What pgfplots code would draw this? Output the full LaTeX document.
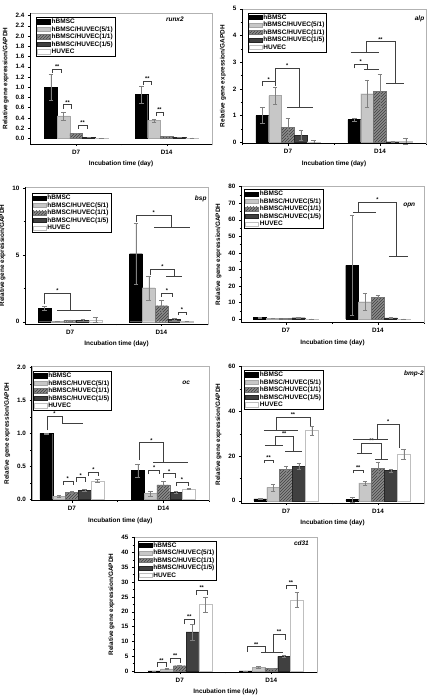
\documentclass[border=0pt]{standalone}
\usepackage{pgfplots}
\pgfplotsset{compat=1.18}
\usepackage{fontspec}
\setmainfont{Liberation Sans}
\usetikzlibrary{patterns}
\tikzset{
 sig/.style={black!75, line width=0.4pt},
 sigl/.style={above, inner sep=0.3pt, font=\fontsize{5.5}{5.5}\selectfont\bfseries, black},
 plab/.style={font=\fontsize{6.5}{7}\selectfont\bfseries\itshape},
}
\pgfplotsset{
 panel/.style={
  scale only axis, ybar, bar width=0.14, clip=false,
  xtick={1,2}, xticklabels={D7,D14}, minor xtick={0.5,1.5,2.5},
  tick align=outside, xtick pos=bottom, ytick pos=left,
  major tick length=2.2pt, minor tick length=1.3pt,
  every tick/.style={black,line width=0.4pt},
  minor y tick num=1,
  axis line style={black!30, line width=0.4pt},
  tick label style={font=\fontsize{6.3}{7}\selectfont\bfseries},
  /pgf/number format/assume math mode=true,
  xlabel={Incubation time (day)}, ylabel={Relative gene expression/GAPDH},
  label style={font=\fontsize{6.4}{7}\selectfont\bfseries},
  legend cell align=left,
  legend image code/.code={\draw[##1] (0pt,-2.1pt) rectangle (13pt,2.1pt);},
  legend style={anchor=north west, draw=black, line width=0.4pt, font=\fontsize{6.5}{7}\selectfont\bfseries, inner xsep=1pt, inner ysep=0.8pt, row sep=0pt,
    nodes={inner xsep=1.2pt, inner ysep=0.5pt, text height=5.1pt, text depth=1.4pt}},
  after end axis/.code={\draw[black,line width=0.5pt] (rel axis cs:0,1)--(rel axis cs:0,0)--(rel axis cs:1,0);},
 },
 s1/.style={fill=black, draw=black, line width=0.3pt},
 s2/.style={fill=black!22, draw=black!35, line width=0.3pt},
 s3/.style={fill=black!45, draw=black!55, line width=0.3pt, postaction={pattern=north east lines, pattern color=black!75}},
 s4/.style={fill=black!75, draw=black!85, line width=0.3pt},
 s5/.style={fill=white, draw=black!25, line width=0.3pt},
 eb/.style={error bars/y dir=both, error bars/y explicit, error bars/error bar style={black!50,line width=0.3pt}, error bars/error mark options={rotate=90,black!50,mark size=2.3pt,line width=0.3pt}},
}
\newcommand{\br}[5]{\draw[sig] (axis cs:#1,#4) -- (axis cs:#1,#3) -- node[sigl]{#5} (axis cs:#2,#3) -- (axis cs:#2,#4);}
\newcommand{\gbr}[6]{\draw[sig] (axis cs:#1,#2) -- (axis cs:#1,#5) -- node[sigl]{#6} (axis cs:#3,#5) -- (axis cs:#3,#4);}
\newcommand{\hl}[3]{\draw[sig] (axis cs:#1,#3) -- (axis cs:#2,#3);}
\newcommand{\legs}{\legend{hBMSC,hBMSC/HUVEC(5/1),hBMSC/HUVEC(1/1),hBMSC/HUVEC(1/5),HUVEC}}
\begin{document}
\begin{tikzpicture}
\useasboundingbox (0pt,0pt) rectangle (432pt,697pt);
% ---------------- runx2
\begin{axis}[panel, at={(30pt,553pt)}, anchor=south west, width=182pt, height=131pt,
 xmin=0.49, xmax=2.5, ymin=-0.11, ymax=2.45,
 ytick={0,0.2,0.4,0.6,0.8,1.0,1.2,1.4,1.6,1.8,2.0,2.2,2.4}, minor y tick num=0,
 yticklabel style={/pgf/number format/fixed,/pgf/number format/fixed zerofill,/pgf/number format/precision=1},
 legend style={at={(0.033,0.97)}}]
\addplot[s1,bar shift=-0.28,eb] table[row sep=\\,y error=e]{x y e\\1 1.00 0.25\\2 0.86 0.17\\};
\addplot[s2,bar shift=-0.14,eb] table[row sep=\\,y error=e]{x y e\\1 0.44 0.08\\2 0.35 0.03\\};
\addplot[s3,bar shift=0,eb] table[row sep=\\,y error=e]{x y e\\1 0.10 0.005\\2 0.04 0.005\\};
\addplot[s4,bar shift=0.14,eb] table[row sep=\\,y error=e]{x y e\\1 0.02 0.005\\2 0.02 0.005\\};
\addplot[s5,bar shift=0.28,eb] table[row sep=\\,y error=e]{x y e\\1 0.005 0.003\\2 0.008 0.003\\};
\legs
\br{0.74}{0.84}{1.36}{1.28}{**}
\br{0.86}{0.95}{0.66}{0.58}{**}
\br{1.02}{1.12}{0.26}{0.18}{**}
\br{1.74}{1.83}{1.12}{1.04}{**}
\br{1.88}{1.96}{0.52}{0.44}{**}
\node[plab] at (axis cs:2.09,2.33) {runx2};
\end{axis}
% ---------------- alp
\begin{axis}[panel, at={(242pt,553.4pt)}, anchor=south west, width=184pt, height=134.8pt,
 xmin=0.5, xmax=2.5, ymin=-0.05, ymax=5, ytick={0,1,2,3,4,5},
 legend style={at={(0.031,0.971)}}]
\addplot[s1,bar shift=-0.28,eb] table[row sep=\\,y error=e]{x y e\\1 1.00 0.30\\2 0.85 0.06\\};
\addplot[s2,bar shift=-0.14,eb] table[row sep=\\,y error=e]{x y e\\1 1.75 0.33\\2 1.82 0.52\\};
\addplot[s3,bar shift=0,eb] table[row sep=\\,y error=e]{x y e\\1 0.55 0.35\\2 1.92 0.63\\};
\addplot[s4,bar shift=0.14,eb] table[row sep=\\,y error=e]{x y e\\1 0.27 0.20\\2 0.02 0.01\\};
\addplot[s5,bar shift=0.28,eb] table[row sep=\\,y error=e]{x y e\\1 0.02 0.06\\2 0.05 0.12\\};
\legs
\br{0.72}{0.86}{2.27}{2.1}{*}
\gbr{0.86}{2.3}{1.12}{1.31}{2.79}{*}
\hl{0.99}{1.27}{1.31}
\gbr{1.72}{2.77}{1.86}{2.73}{2.93}{*}
\hl{1.83}{1.99}{2.73}
\hl{1.68}{1.99}{3.39}
\gbr{1.85}{3.39}{2.16}{2.2}{3.77}{**}
\hl{2.07}{2.26}{2.2}
\node[plab] at (axis cs:2.43,4.64) {alp};
\end{axis}
% ---------------- bsp
\begin{axis}[panel, at={(25pt,373pt)}, anchor=south west, width=183pt, height=137pt,
 xmin=0.505, xmax=2.51, ymin=-0.17, ymax=10.1, ytick={0,5,10},
 legend style={at={(0.037,0.954)}}]
\addplot[s1,bar shift=-0.28,eb] table[row sep=\\,y error=e]{x y e\\1 1.00 0.15\\2 5.1 2.3\\};
\addplot[s2,bar shift=-0.14,eb] table[row sep=\\,y error=e]{x y e\\1 0.05 0.02\\2 2.55 0.9\\};
\addplot[s3,bar shift=0,eb] table[row sep=\\,y error=e]{x y e\\1 0.10 0.05\\2 1.2 0.45\\};
\addplot[s4,bar shift=0.14,eb] table[row sep=\\,y error=e]{x y e\\1 0.12 0.05\\2 0.2 0.05\\};
\addplot[s5,bar shift=0.28,eb] table[row sep=\\,y error=e]{x y e\\1 0.15 0.18\\2 0.03 0.02\\};
\legs
\gbr{0.72}{1.3}{1.0}{0.87}{2.13}{*}
\hl{0.86}{1.23}{0.87}
\gbr{1.72}{7.5}{2.11}{7.05}{8.0}{*}
\hl{1.92}{2.31}{7.05}
\gbr{1.88}{3.5}{2.14}{3.45}{3.95}{*}
\hl{2.05}{2.22}{3.45}
\br{2.0}{2.12}{2.13}{1.85}{*}
\br{2.18}{2.27}{0.75}{0.5}{*}
\node[plab] at (axis cs:2.43,9.18) {bsp};
\end{axis}
% ---------------- opn
\begin{axis}[panel, at={(241pt,374.3pt)}, anchor=south west, width=183pt, height=136.7pt,
 xmin=0.514, xmax=2.5, ymin=-2.2, ymax=80.4, ytick={0,10,...,80},
 legend style={at={(0.018,0.978)}}]
\addplot[s1,bar shift=-0.28,eb] table[row sep=\\,y error=e]{x y e\\1 1.0 0.3\\2 32.5 30\\};
\addplot[s2,bar shift=-0.14,eb] table[row sep=\\,y error=e]{x y e\\1 0.5 0.2\\2 10.5 5\\};
\addplot[s3,bar shift=0,eb] table[row sep=\\,y error=e]{x y e\\1 0.3 0.2\\2 13 1.3\\};
\addplot[s4,bar shift=0.14,eb] table[row sep=\\,y error=e]{x y e\\1 0.8 0.2\\2 0.7 0.2\\};
\addplot[s5,bar shift=0.28,eb] table[row sep=\\,y error=e]{x y e\\1 0.1 0.1\\2 0.1 0.1\\};
\legs
\hl{1.73}{1.98}{64.5}
\gbr{1.79}{64.5}{2.2}{38}{70.5}{*}
\hl{2.12}{2.33}{38}
\node[plab] at (axis cs:2.34,68.9) {opn};
\end{axis}
% ---------------- oc
\begin{axis}[panel, at={(31.7pt,196.3pt)}, anchor=south west, width=177.3pt, height=134.7pt,
 xmin=0.56, xmax=2.5, ymin=-0.02, ymax=2.02, ytick={0,0.5,1.0,1.5,2.0},
 yticklabel style={/pgf/number format/fixed,/pgf/number format/fixed zerofill,/pgf/number format/precision=1},
 legend style={at={(0.005,0.963)}}]
\addplot[s1,bar shift=-0.28,eb] table[row sep=\\,y error=e]{x y e\\1 1.00 0.005\\2 0.44 0.1\\};
\addplot[s2,bar shift=-0.14,eb] table[row sep=\\,y error=e]{x y e\\1 0.05 0.01\\2 0.09 0.04\\};
\addplot[s3,bar shift=0,eb] table[row sep=\\,y error=e]{x y e\\1 0.11 0.02\\2 0.22 0.05\\};
\addplot[s4,bar shift=0.14,eb] table[row sep=\\,y error=e]{x y e\\1 0.14 0.01\\2 0.11 0.02\\};
\addplot[s5,bar shift=0.28,eb] table[row sep=\\,y error=e]{x y e\\1 0.28 0.02\\2 0.16 0.01\\};
\legs
\gbr{0.73}{1.05}{0.89}{1.15}{1.26}{*}
\hl{0.89}{1.12}{1.15}
\br{0.90}{1.01}{0.28}{0.22}{*}
\br{1.05}{1.14}{0.33}{0.27}{*}
\br{1.18}{1.29}{0.41}{0.35}{*}
\gbr{1.74}{0.6}{2.0}{0.56}{0.86}{*}
\hl{1.89}{2.27}{0.56}
\br{1.84}{1.96}{0.44}{0.38}{*}
\br{2.0}{2.13}{0.39}{0.33}{*}
\br{2.14}{2.27}{0.26}{0.2}{*}
\node[plab] at (axis cs:2.25,1.77) {oc};
\end{axis}
% ---------------- bmp-2
\begin{axis}[panel, at={(241pt,194pt)}, anchor=south west, width=183pt, height=137pt,
 xmin=0.51, xmax=2.5, ymin=-1, ymax=60.3, ytick={0,20,40,60},
 legend style={at={(0.018,0.971)}}]
\addplot[s1,bar shift=-0.28,eb] table[row sep=\\,y error=e]{x y e\\1 0.9 0.3\\2 0.5 1.2\\};
\addplot[s2,bar shift=-0.14,eb] table[row sep=\\,y error=e]{x y e\\1 6.0 1.5\\2 8.0 0.8\\};
\addplot[s3,bar shift=0,eb] table[row sep=\\,y error=e]{x y e\\1 14.0 1.5\\2 14.5 3.0\\};
\addplot[s4,bar shift=0.14,eb] table[row sep=\\,y error=e]{x y e\\1 15.5 1.2\\2 13.5 0.8\\};
\addplot[s5,bar shift=0.28,eb] table[row sep=\\,y error=e]{x y e\\1 31.5 2.0\\2 20.8 2.2\\};
\legs
\br{0.76}{0.86}{18.2}{16.8}{**}
\hl{0.77}{0.97}{24.9}
\gbr{0.88}{24.9}{1.08}{22.4}{29}{**}
\hl{0.99}{1.17}{22.4}
\hl{0.76}{1.13}{31.4}
\gbr{0.89}{31.4}{1.26}{33.6}{37.3}{**}
\br{1.73}{1.84}{13.7}{12.3}{**}
\hl{1.77}{1.93}{21.2}
\gbr{1.82}{21.2}{2.04}{18.5}{25.7}{**}
\hl{1.97}{2.11}{18.5}
\hl{1.73}{2.11}{27.5}
\gbr{1.99}{27.5}{2.23}{23.5}{34.2}{*}
\node[plab] at (axis cs:2.39,57) {bmp-2};
\end{axis}
% ---------------- cd31
\begin{axis}[panel, at={(134pt,25pt)}, anchor=south west, width=183pt, height=135pt,
 xmin=0.5, xmax=2.5, ymin=-0.34, ymax=45.2, ytick={0,5,...,45},
 legend style={at={(0.02,0.973)}}]
\addplot[s1,bar shift=-0.28,eb] table[row sep=\\,y error=e]{x y e\\1 0.05 0.05\\2 0.05 0.05\\};
\addplot[s2,bar shift=-0.14,eb] table[row sep=\\,y error=e]{x y e\\1 0.7 0.2\\2 1.3 0.2\\};
\addplot[s3,bar shift=0,eb] table[row sep=\\,y error=e]{x y e\\1 1.8 0.3\\2 0.8 0.2\\};
\addplot[s4,bar shift=0.14,eb] table[row sep=\\,y error=e]{x y e\\1 13.2 2.7\\2 4.9 0.3\\};
\addplot[s5,bar shift=0.28,eb] table[row sep=\\,y error=e]{x y e\\1 22.5 2.5\\2 24.0 2.5\\};
\legs
\br{0.75}{0.85}{2.8}{1.5}{**}
\br{0.90}{1.0}{4.3}{2.6}{**}
\br{1.05}{1.16}{17.6}{15.8}{**}
\br{1.18}{1.30}{27.3}{25.6}{**}
\gbr{1.74}{6.5}{1.93}{6.2}{8.2}{**}
\hl{1.89}{2.13}{6.2}
\gbr{2.02}{6.2}{2.15}{10.5}{12.4}{**}
\br{2.16}{2.27}{29}{27.5}{**}
\node[plab] at (axis cs:2.33,43.1) {cd31};
\end{axis}
\end{tikzpicture}
\end{document}
